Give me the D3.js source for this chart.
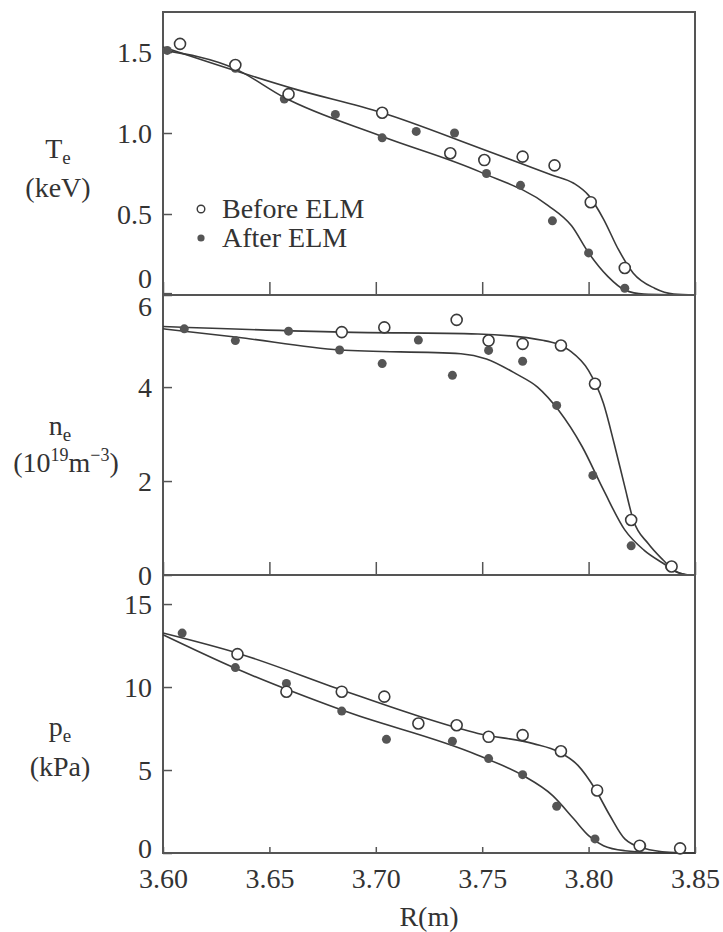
<!DOCTYPE html>
<html>
<head>
<meta charset="utf-8">
<script src="https://cdn.jsdelivr.net/npm/d3@7"></script>
<style>
  body { margin: 0; background: #fff; }
</style>
</head>
<body>
<svg width="723" height="932"></svg>
<script>
// --- Data (R in m) ---
const rTicks = [3.60, 3.65, 3.70, 3.75, 3.80, 3.85];

// Te (keV)
const teBefore = [[3.608,1.55],[3.634,1.42],[3.659,1.24],[3.703,1.125],[3.735,0.875],[3.751,0.833],
  [3.769,0.854],[3.784,0.80],[3.801,0.573],[3.817,0.167]];
const teAfter = [[3.602,1.51],[3.634,1.40],[3.657,1.21],[3.681,1.115],[3.703,0.97],[3.719,1.01],
  [3.737,1.0],[3.752,0.75],[3.768,0.677],[3.783,0.458],[3.800,0.26],[3.817,0.042]];
const teBeforeFit = [[3.600,1.531],[3.662,1.271],[3.703,1.125],[3.749,0.906],[3.783,0.74],[3.793,0.69],
  [3.800,0.615],[3.807,0.469],[3.814,0.281],[3.821,0.135],[3.831,0.042],[3.840,0.006],[3.850,0]];
const teAfterFit = [[3.600,1.51],[3.634,1.396],[3.657,1.219],[3.703,0.979],[3.749,0.76],[3.781,0.552],
  [3.792,0.427],[3.800,0.26],[3.809,0.115],[3.817,0.031],[3.826,0.006],[3.850,0]];

// ne (10^19 m^-3)
const neBefore = [[3.684,5.17],[3.704,5.27],[3.738,5.43],[3.753,4.99],[3.769,4.92],[3.787,4.885],
  [3.803,4.07],[3.820,1.17],[3.839,0.18]];
const neAfter = [[3.610,5.24],[3.634,4.99],[3.659,5.19],[3.683,4.79],[3.703,4.50],[3.720,5.0],
  [3.736,4.25],[3.753,4.78],[3.769,4.55],[3.785,3.61],[3.802,2.12],[3.820,0.62],[3.838,0.18]];
const neBeforeFit = [[3.600,5.29],[3.684,5.17],[3.748,5.13],[3.779,4.99],[3.791,4.78],[3.800,4.35],
  [3.807,3.65],[3.812,2.80],[3.817,1.88],[3.821,1.17],[3.828,0.67],[3.835,0.32],[3.841,0.07],[3.847,0]];
const neAfterFit = [[3.600,5.24],[3.635,5.06],[3.683,4.79],[3.740,4.71],[3.752,4.60],[3.766,4.28],
  [3.776,4.0],[3.786,3.50],[3.797,2.73],[3.807,1.81],[3.817,0.96],[3.826,0.53],[3.835,0.25],[3.843,0.035],[3.846,0]];

// pe (kPa)
const peBefore = [[3.635,11.98],[3.658,9.72],[3.684,9.72],[3.704,9.42],[3.720,7.80],[3.738,7.70],
  [3.753,7.0],[3.769,7.10],[3.787,6.13],[3.804,3.77],[3.824,0.44],[3.843,0.28]];
const peAfter = [[3.609,13.25],[3.634,11.17],[3.658,10.22],[3.684,8.55],[3.705,6.85],[3.736,6.73],
  [3.753,5.69],[3.769,4.72],[3.785,2.82],[3.803,0.85],[3.825,0.44],[3.843,0.28]];
const peBeforeFit = [[3.600,13.25],[3.635,12.04],[3.684,9.82],[3.721,8.21],[3.748,7.20],[3.774,6.59],
  [3.786,6.09],[3.795,5.28],[3.803,3.87],[3.810,2.26],[3.817,0.85],[3.826,0.28],[3.838,0.04],[3.850,0]];
const peAfterFit = [[3.600,13.15],[3.634,11.13],[3.684,8.61],[3.748,5.89],[3.769,4.68],[3.783,3.47],
  [3.793,2.06],[3.800,1.05],[3.807,0.44],[3.817,0.14],[3.835,0],[3.850,0]];

const legendLabels = ["Before ELM", "After ELM"];

// --- Setup ---
const serif = "Liberation Serif, DejaVu Serif, serif";
const svg = d3.select("svg").attr("font-family", serif);
const ink = "#3a3a3a", txt = "#333";
const x = d3.scaleLinear().domain([3.60, 3.85]).range([163, 695]);

const panels = [
  { y: d3.scaleLinear().domain([0, 1.747]).range([295, 12]), ticks: [0, 0.5, 1.0, 1.5],
    fmt: d => d === 0 ? "0" : d.toFixed(1), shift: {0: -17},
    before: teBefore, after: teAfter, beforeFit: teBeforeFit, afterFit: teAfterFit },
  { y: d3.scaleLinear().domain([0, 5.96]).range([575, 295]), ticks: [0, 2, 4, 6],
    fmt: d3.format("d"), shift: {6: 13},
    before: neBefore, after: neAfter, beforeFit: neBeforeFit, afterFit: neAfterFit },
  { y: d3.scaleLinear().domain([0, 16.75]).range([853, 575]), ticks: [0, 5, 10, 15],
    fmt: d3.format("d"), shift: {0: -5},
    before: peBefore, after: peAfter, beforeFit: peBeforeFit, afterFit: peAfterFit }
];

panels.forEach((p, i) => {
  const g = svg.append("g");
  const [y0, y1] = p.y.range();

  // frame
  g.append("rect")
    .attr("x", x(3.60)).attr("y", y1)
    .attr("width", x(3.85) - x(3.60)).attr("height", y0 - y1)
    .attr("fill", "none").attr("stroke", "#555").attr("stroke-width", 2);

  // y axis
  const ya = g.append("g")
    .attr("transform", `translate(${x(3.60)},0)`)
    .call(d3.axisLeft(p.y).tickValues(p.ticks).tickFormat(p.fmt).tickSize(-9).tickPadding(11));
  ya.attr("font-family", serif).attr("font-size", 28);
  ya.select(".domain").remove();
  ya.selectAll("line").attr("stroke", "#555").attr("stroke-width", 1.5);
  ya.selectAll("text").attr("fill", txt)
    .attr("dy", d => (p.shift[d] || 0) + 9 + "px");

  // x axis
  const last = i === panels.length - 1;
  const xa = g.append("g")
    .attr("transform", `translate(0,${y0})`)
    .call(d3.axisBottom(x).tickValues(rTicks)
      .tickFormat(last ? d3.format(".2f") : "")
      .tickSize(last ? -6 : -13).tickPadding(15));
  xa.attr("font-family", serif).attr("font-size", 28);
  xa.select(".domain").remove();
  xa.selectAll("line").attr("stroke", "#555").attr("stroke-width", 1.5);
  xa.selectAll("text").attr("fill", txt);

  // fitted curves
  const line = d3.line()
    .x(d => x(d[0])).y(d => p.y(d[1]))
    .curve(d3.curveMonotoneX);
  [p.beforeFit, p.afterFit].forEach(fit => {
    g.append("path").datum(fit)
      .attr("d", line)
      .attr("fill", "none").attr("stroke", ink).attr("stroke-width", 1.6);
  });

  // data points
  g.selectAll(".after").data(p.after).enter().append("circle")
    .attr("cx", d => x(d[0])).attr("cy", d => p.y(d[1]))
    .attr("r", 4.5).attr("fill", "#555");
  g.selectAll(".before").data(p.before).enter().append("circle")
    .attr("cx", d => x(d[0])).attr("cy", d => p.y(d[1]))
    .attr("r", 5.5).attr("fill", "#fff").attr("stroke", ink).attr("stroke-width", 1.6);
});

// --- Legend ---
const leg = svg.append("g");
leg.append("circle").attr("cx", 201).attr("cy", 209).attr("r", 3.8)
  .attr("fill", "#fff").attr("stroke", ink).attr("stroke-width", 1.4);
leg.append("circle").attr("cx", 201).attr("cy", 238).attr("r", 3.6).attr("fill", "#555");
leg.selectAll("text").data(legendLabels).enter().append("text")
  .attr("x", 222).attr("y", (d, i) => 218 + i * 29)
  .attr("font-size", 28).attr("fill", txt).text(d => d);

// --- Axis titles ---
function title(cx, y1, main, sub, y2, unit) {
  const t = svg.append("text").attr("x", cx).attr("y", y1)
    .attr("text-anchor", "middle").attr("font-size", 28).attr("fill", txt);
  t.append("tspan").text(main);
  t.append("tspan").attr("font-size", 19).attr("dy", 6).text(sub);
  return svg.append("text").attr("x", cx).attr("y", y2)
    .attr("text-anchor", "middle").attr("font-size", 28).attr("fill", txt).text(unit);
}
title(58, 158, "T", "e", 197, "(keV)");
title(60, 736, "p", "e", 776, "(kPa)");

const neT = svg.append("text").attr("x", 60).attr("y", 435)
  .attr("text-anchor", "middle").attr("font-size", 28).attr("fill", txt);
neT.append("tspan").text("n");
neT.append("tspan").attr("font-size", 19).attr("dy", 6).text("e");
const neU = svg.append("text").attr("x", 66).attr("y", 472)
  .attr("text-anchor", "middle").attr("font-size", 28).attr("fill", txt);
neU.append("tspan").text("(10");
neU.append("tspan").attr("font-size", 18).attr("dy", -11).text("19");
neU.append("tspan").attr("dy", 11).text("m");
neU.append("tspan").attr("font-size", 18).attr("dy", -11).text("−3");
neU.append("tspan").attr("dy", 11).text(")");

svg.append("text").attr("x", 429).attr("y", 926)
  .attr("text-anchor", "middle").attr("font-size", 28).attr("fill", txt).text("R(m)");
</script>
</body>
</html>
